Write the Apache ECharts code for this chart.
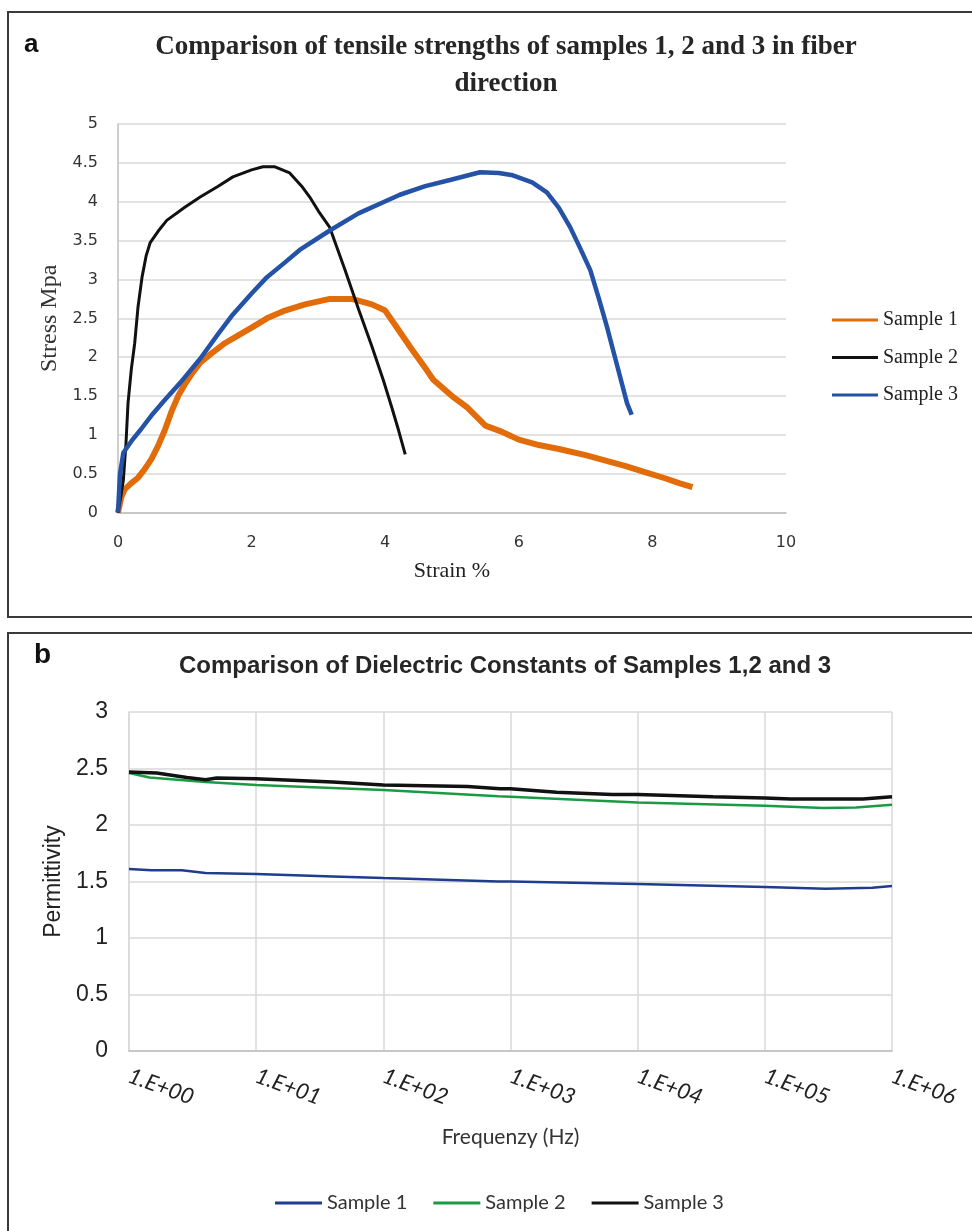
<!DOCTYPE html>
<html><head><meta charset="utf-8">
<script src="https://cdn.jsdelivr.net/npm/echarts@6/dist/echarts.min.js"></script>
<style>html,body{margin:0;padding:0;background:#fff}#c{width:972px;height:1231px}</style>
</head><body><div id="c"></div>
<script>
// ---- Panel a: tensile tests (strain %, stress MPa) ----
const tensileTitle = 'Comparison of tensile strengths of samples 1, 2 and 3 in fiber\ndirection';
const strainTicks = [0, 2, 4, 6, 8, 10];
const stressTicks = [0, 0.5, 1, 1.5, 2, 2.5, 3, 3.5, 4, 4.5, 5];
const sampleNames = ['Sample 1', 'Sample 2', 'Sample 3'];
const tensile1 = [[0,0],[0.05,0.2],[0.1,0.3],[0.2,0.38],[0.3,0.45],[0.4,0.56],[0.5,0.69],[0.6,0.86],[0.7,1.06],[0.8,1.3],[0.9,1.5],[1.0,1.65],[1.1,1.78],[1.23,1.93],[1.4,2.05],[1.6,2.18],[1.8,2.28],[2.0,2.38],[2.23,2.5],[2.5,2.6],[2.8,2.68],[3.17,2.75],[3.5,2.75],[3.8,2.68],[4.0,2.6],[4.2,2.35],[4.4,2.1],[4.6,1.86],[4.72,1.71],[5.0,1.5],[5.22,1.36],[5.5,1.12],[5.72,1.05],[6.0,0.94],[6.3,0.87],[6.6,0.82],[7.0,0.74],[7.3,0.67],[7.6,0.6],[7.9,0.52],[8.2,0.44],[8.4,0.38],[8.6,0.33]];
const tensile2 = [[0,0],[0.04,0.2],[0.08,0.42],[0.12,0.9],[0.15,1.41],[0.2,1.85],[0.25,2.18],[0.3,2.65],[0.36,3.03],[0.42,3.3],[0.48,3.47],[0.6,3.62],[0.73,3.76],[1.0,3.93],[1.23,4.06],[1.5,4.2],[1.72,4.32],[2.0,4.41],[2.17,4.45],[2.35,4.45],[2.57,4.37],[2.75,4.2],[2.87,4.06],[3.0,3.88],[3.17,3.67],[3.4,3.12],[3.6,2.62],[3.8,2.14],[3.97,1.71],[4.1,1.35],[4.2,1.06],[4.3,0.75]];
const tensile3 = [[0,0],[0.03,0.5],[0.08,0.77],[0.2,0.92],[0.35,1.08],[0.5,1.25],[0.7,1.45],[0.93,1.67],[1.23,1.98],[1.5,2.3],[1.72,2.55],[2.0,2.82],[2.23,3.03],[2.5,3.22],[2.72,3.38],[3.17,3.63],[3.6,3.85],[4.22,4.09],[4.6,4.2],[4.97,4.28],[5.42,4.38],[5.7,4.37],[5.91,4.34],[6.2,4.25],[6.42,4.12],[6.6,3.92],[6.77,3.67],[6.92,3.4],[7.07,3.12],[7.2,2.75],[7.32,2.39],[7.47,1.9],[7.62,1.41],[7.69,1.26]];

// ---- Panel b: dielectric constants (frequency Hz, permittivity) ----
const dielectricTitle = 'Comparison of Dielectric Constants of Samples 1,2 and 3';
const permTicks = [0, 0.5, 1, 1.5, 2, 2.5, 3];
const freqTickLabels = ['1.E+00','1.E+01','1.E+02','1.E+03','1.E+04','1.E+05','1.E+06'];
const perm1 = [[1,1.61],[1.5,1.6],[2.6,1.6],[4,1.575],[10,1.566],[40,1.545],[100,1.53],[800,1.5],[1000,1.5],[10000,1.478],[100000,1.451],[300000,1.436],[700000,1.445],[1000000,1.46]];
const perm2 = [[1,2.46],[1.45,2.42],[4,2.38],[10,2.355],[100,2.31],[800,2.255],[1000,2.25],[10000,2.2],[100000,2.17],[290000,2.15],[520000,2.155],[1000000,2.18]];
const perm3 = [[1,2.47],[1.65,2.46],[2.85,2.42],[4,2.40],[4.9,2.415],[10,2.41],[40,2.38],[100,2.354],[460,2.34],[830,2.32],[1000,2.32],[2300,2.29],[6300,2.27],[10000,2.27],[39000,2.25],[100000,2.24],[160000,2.23],[590000,2.23],[1000000,2.25]];

const serif = "'Liberation Serif', 'Times New Roman', serif";
const sans = "'Liberation Sans', Arial, sans-serif";
const lato = "Lato, 'Open Sans', sans-serif";
const gridColor = '#d9d9d9';
const axisColor = '#bfbfbf';

const chart = echarts.init(document.getElementById('c'), null, {renderer: 'canvas'});
chart.setOption({
  animation: false,
  backgroundColor: '#fff',
  title: [
    {text: tensileTitle, left: 501, top: 24, textAlign: 'center',
     textStyle: {fontFamily: serif, fontWeight: 'bold', fontSize: 27, lineHeight: 37, color: '#262626'}},
    {text: dielectricTitle, left: 500, top: 646, textAlign: 'center',
     textStyle: {fontFamily: sans, fontWeight: 'bold', fontSize: 24, lineHeight: 30, color: '#262626'}}
  ],
  graphic: [
    {type: 'rect', shape: {x: 8, y: 12, width: 1000, height: 605}, style: {fill: 'none', stroke: '#3a3a3a', lineWidth: 2}, silent: true},
    {type: 'rect', shape: {x: 8, y: 633, width: 1000, height: 700}, style: {fill: 'none', stroke: '#3a3a3a', lineWidth: 2}, silent: true},
    {type: 'text', left: 24, top: 32, style: {text: 'a', font: "bold 26px 'Liberation Sans', Arial, sans-serif", fill: '#111'}},
    {type: 'text', left: 34, top: 641, style: {text: 'b', font: "bold 28px 'Liberation Sans', Arial, sans-serif", fill: '#111'}}
  ],
  legend: [
    {orient: 'vertical', left: 832, top: 309, padding: 0, itemWidth: 46, itemHeight: 3, itemGap: 15.5,
     icon: 'rect', data: sampleNames,
     textStyle: {fontFamily: serif, fontSize: 20, lineHeight: 22, color: '#222'}},
    {orient: 'horizontal', left: 275, top: 1192, padding: 0, itemWidth: 47, itemHeight: 3, itemGap: 26,
     icon: 'rect', data: sampleNames.map(n => n + ' '),
     formatter: n => n.trim(),
     textStyle: {fontFamily: lato, fontSize: 20, lineHeight: 22, color: '#333'}}
  ],
  grid: [
    {left: 118, right: 186, top: 124, bottom: 718.3, containLabel: false},
    {left: 129, right: 80, top: 712, bottom: 180, containLabel: false}
  ],
  xAxis: [
    {type: 'value', gridIndex: 0, min: strainTicks[0], max: strainTicks[strainTicks.length-1], interval: 2,
     name: 'Strain %', nameLocation: 'middle', nameGap: 48,
     nameTextStyle: {fontFamily: serif, fontSize: 22, color: '#222'},
     axisLine: {show: true, lineStyle: {color: axisColor, width: 1.5}},
     axisTick: {show: false}, splitLine: {show: false},
     axisLabel: {margin: 22, fontFamily: "'DejaVu Sans', Verdana, sans-serif", fontSize: 16, color: '#333'}},
    {type: 'log', gridIndex: 1, logBase: 10, min: 1, max: 1000000,
     name: 'Frequenzy (Hz)', nameLocation: 'middle', nameGap: 76,
     nameTextStyle: {fontFamily: lato, fontSize: 21, color: '#333'},
     axisLine: {show: true, lineStyle: {color: axisColor, width: 1.5}},
     axisTick: {show: false},
     splitLine: {show: true, lineStyle: {color: gridColor, width: 1.5}},
     axisLabel: {rotate: -20, margin: 24, fontFamily: lato, fontStyle: 'italic', fontSize: 22, color: '#222',
       formatter: v => freqTickLabels[Math.round(Math.log10(v))]}}
  ],
  yAxis: [
    {type: 'value', gridIndex: 0, min: stressTicks[0], max: stressTicks[stressTicks.length-1], interval: 0.5,
     name: 'Stress Mpa', nameLocation: 'middle', nameGap: 52, nameRotate: 90,
     nameTextStyle: {fontFamily: serif, fontSize: 24, color: '#333'},
     axisLine: {show: true, lineStyle: {color: axisColor, width: 1.5}},
     axisTick: {show: false},
     splitLine: {show: true, lineStyle: {color: gridColor, width: 1.5}},
     axisLabel: {margin: 20, fontFamily: "'DejaVu Sans', Verdana, sans-serif", fontSize: 16, color: '#333'}},
    {type: 'value', gridIndex: 1, min: permTicks[0], max: permTicks[permTicks.length-1], interval: 0.5,
     name: 'Permittivity', nameLocation: 'middle', nameGap: 62, nameRotate: 90,
     nameTextStyle: {fontFamily: sans, fontSize: 23, color: '#222'},
     axisLine: {show: true, lineStyle: {color: gridColor, width: 1.5}},
     axisTick: {show: false},
     splitLine: {show: true, lineStyle: {color: gridColor, width: 1.5}},
     axisLabel: {margin: 21, fontFamily: sans, fontSize: 23, color: '#222'}}
  ],
  series: [
    {name: sampleNames[0], type: 'line', xAxisIndex: 0, yAxisIndex: 0, data: tensile1, showSymbol: false,
     color: '#e36c0a', lineStyle: {color: '#e36c0a', width: 6}},
    {name: sampleNames[1], type: 'line', xAxisIndex: 0, yAxisIndex: 0, data: tensile2, showSymbol: false,
     color: '#111111', lineStyle: {color: '#111111', width: 3}},
    {name: sampleNames[2], type: 'line', xAxisIndex: 0, yAxisIndex: 0, data: tensile3, showSymbol: false,
     color: '#2452a6', lineStyle: {color: '#2452a6', width: 4.5}},
    {name: sampleNames[0] + ' ', type: 'line', xAxisIndex: 1, yAxisIndex: 1, data: perm1, showSymbol: false,
     color: '#1f3c8f', lineStyle: {color: '#1f3c8f', width: 2.5}},
    {name: sampleNames[1] + ' ', type: 'line', xAxisIndex: 1, yAxisIndex: 1, data: perm2, showSymbol: false,
     color: '#1a9a45', lineStyle: {color: '#1a9a45', width: 2.5}},
    {name: sampleNames[2] + ' ', type: 'line', xAxisIndex: 1, yAxisIndex: 1, data: perm3, showSymbol: false,
     color: '#111111', lineStyle: {color: '#111111', width: 3.5}}
  ]
});
</script></body></html>
